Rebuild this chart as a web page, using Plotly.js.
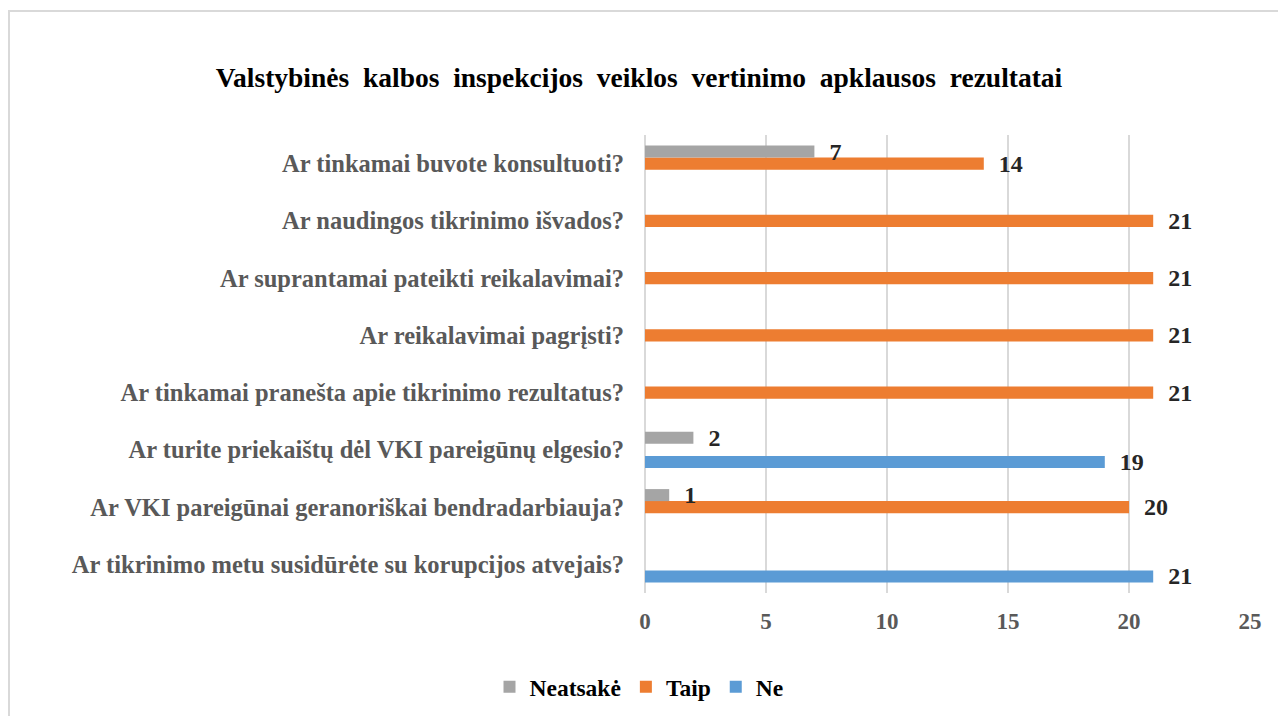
<!DOCTYPE html>
<html>
<head>
<meta charset="utf-8">
<script src="https://cdn.plot.ly/plotly-3.0.1.min.js"></script>
<style>
  html, body { margin: 0; padding: 0; background: #fff; }
  #chart { width: 1278px; height: 716px; }
  #frame { position: absolute; left: 8px; top: 10px; width: 1300px; height: 730px;
           border: 2px solid #d9d9d9; pointer-events: none; box-sizing: border-box; }
</style>
</head>
<body>
<div id="chart"></div>
<div id="frame"></div>
<script>
// Categories listed bottom to top
const categories = [
  "Ar tikrinimo metu susidūrėte su korupcijos atvejais?",
  "Ar VKI pareigūnai geranoriškai bendradarbiauja?",
  "Ar turite priekaištų dėl VKI pareigūnų elgesio?",
  "Ar tinkamai pranešta apie tikrinimo rezultatus?",
  "Ar reikalavimai pagrįsti?",
  "Ar suprantamai pateikti reikalavimai?",
  "Ar naudingos tikrinimo išvados?",
  "Ar tinkamai buvote konsultuoti?"
];
const ne       = [21, null, 19, null, null, null, null, null];
const taip     = [null, 20, null, 21, 21, 21, 21, 14];
const neatsake = [null, 1, 2, null, null, null, null, 7];

const seriesNames = ["Ne", "Taip", "Neatsakė"];
const seriesColors = ["#5B9BD5", "#ED7D31", "#A5A5A5"];
const seriesValues = [ne, taip, neatsake];

const titleText = "Valstybinės kalbos inspekcijos veiklos vertinimo apklausos rezultatai";

const serif = "'Liberation Serif', 'Times New Roman', serif";
const pad = "\u00a0\u00a0";

const traces = seriesValues.map((vals, i) => ({
  type: "bar",
  orientation: "h",
  name: seriesNames[i],
  y: categories,
  x: vals,
  marker: { color: seriesColors[i] },
  text: vals.map(v => v == null ? "" : pad + v),
  textposition: "outside",
  constraintext: "none",
  cliponaxis: false,
  textfont: { family: serif, size: 24, color: "#262626", weight: "bold" },
  hoverinfo: "x+name"
}));

const layout = {
  width: 1278,
  height: 716,
  margin: { l: 645, r: 28, t: 135, b: 123 },
  paper_bgcolor: "#ffffff",
  plot_bgcolor: "#ffffff",
  barmode: "group",
  bargap: 0.37,
  bargroupgap: 0,
  title: {
    text: "<b>" + titleText.split(" ").join(" \u00a0") + "</b>",
    font: { family: serif, size: 27.5, color: "#000000" },
    x: 0.5, xref: "container", xanchor: "center",
    y: 1 - 77 / 716, yref: "container", yanchor: "middle"
  },
  xaxis: {
    range: [0, 25],
    dtick: 5,
    tick0: 0,
    showgrid: true,
    gridcolor: "#d9d9d9",
    gridwidth: 1.5,
    zeroline: true,
    zerolinecolor: "#d9d9d9",
    zerolinewidth: 1.5,
    showline: false,
    ticks: "",
    ticklabelstandoff: 12,
    tickfont: { family: serif, size: 23, color: "#595959", weight: "bold" },
    fixedrange: true
  },
  yaxis: {
    type: "category",
    showgrid: false,
    zeroline: false,
    showline: false,
    ticks: "",
    ticklabelstandoff: 20,
    tickfont: { family: serif, size: 24.5, color: "#595959", weight: "bold" },
    fixedrange: true
  },
  showlegend: true,
  legend: {
    orientation: "h",
    traceorder: "reversed",
    x: 0.5, xref: "container", xanchor: "center",
    y: (716 - 687) / 716, yref: "container", yanchor: "middle",
    font: { family: serif, size: 23.5, color: "#000000", weight: "bold" },
    itemwidth: 30
  }
};

Plotly.newPlot("chart", traces, layout, { displayModeBar: false, staticPlot: true });
</script>
</body>
</html>
